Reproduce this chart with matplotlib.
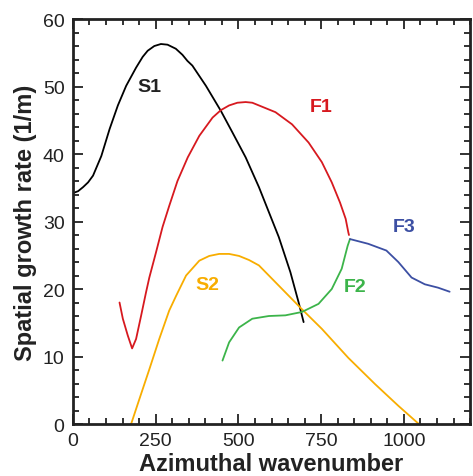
import numpy as np
import matplotlib.pyplot as plt
from matplotlib.ticker import MultipleLocator

plt.rcParams['font.family'] = ['Liberation Sans', 'DejaVu Sans']

s1_x = [0, 16, 31, 46, 61, 86, 111, 136, 161, 191, 211, 226, 246, 266, 286, 311, 331, 346, 361,
        402, 447, 482, 522, 562, 592, 622, 657, 682, 697]
s1_y = [34.2, 34.5, 35.1, 35.8, 36.8, 39.7, 43.7, 47.2, 50.1, 52.8, 54.4, 55.3, 56.0, 56.3, 56.2,
        55.6, 54.7, 53.8, 53.1, 50.1, 46.4, 43.2, 39.5, 35.1, 31.4, 27.7, 22.5, 18.0, 15.1]

f1_x = [141, 151, 166, 179, 191, 206, 221, 231, 251, 271, 291, 316, 347, 382, 422, 447, 472, 497,
        522, 542, 562, 612, 662, 712, 752, 782, 807, 824, 832, 834]
f1_y = [18.0, 15.6, 13.1, 11.2, 12.6, 16.0, 19.5, 21.7, 25.4, 29.2, 32.3, 36.0, 39.5, 42.7,
        45.4, 46.5, 47.2, 47.6, 47.7, 47.6, 47.2, 46.2, 44.4, 41.7, 38.8, 35.8, 32.8, 30.4, 28.4, 28.0]

s2_x = [176, 201, 231, 261, 291, 312, 342, 382, 412, 442, 472, 502, 532, 562, 622, 692, 752, 832,
        913, 983, 1045]
s2_y = [0.0, 3.7, 8.1, 12.6, 16.8, 19.0, 22.0, 24.2, 24.9, 25.2, 25.2, 24.9, 24.3, 23.5, 20.5,
        17.0, 14.1, 9.8, 5.9, 2.7, 0.0]

f2_x = [452, 472, 502, 542, 592, 642, 692, 742, 782, 812, 830, 837]
f2_y = [9.4, 12.1, 14.3, 15.6, 16.0, 16.1, 16.6, 17.8, 20.0, 23.0, 26.4, 27.4]

f3_x = [837, 892, 947, 983, 1023, 1063, 1103, 1138]
f3_y = [27.4, 26.7, 25.7, 24.0, 21.7, 20.7, 20.2, 19.6]

fig = plt.figure(figsize=(4.73, 4.77), dpi=100)
ax = fig.add_axes([0.154, 0.109, 0.84, 0.849])

lw = 1.3
kw = dict(lw=lw, solid_joinstyle='round', solid_capstyle='round')
ax.plot(s1_x, s1_y, color='black', **kw)
ax.plot(f1_x, f1_y, color='#d7191f', **kw)
ax.plot(s2_x, s2_y, color='#f8ad00', **kw)
ax.plot(f2_x, f2_y, color='#3cb44a', **kw)
ax.plot(f3_x, f3_y, color='#3c4fa3', **kw)

lab = dict(fontsize=14, fontweight='bold', ha='center', va='center')
ax.text(230, 50.0, 'S1', color='#222222', **lab)
ax.text(751, 47.1, 'F1', color='#d7191f', **lab)
ax.text(1000, 29.2, 'F3', color='#3c4fa3', **lab)
ax.text(406, 20.7, 'S2', color='#f8ad00', **lab)
ax.text(853, 20.3, 'F2', color='#3cb44a', **lab)

ax.set_xlim(0, 1200)
ax.set_ylim(0, 60)
ax.xaxis.set_major_locator(MultipleLocator(250))
ax.xaxis.set_minor_locator(MultipleLocator(50))
ax.yaxis.set_major_locator(MultipleLocator(10))
ax.yaxis.set_minor_locator(MultipleLocator(2))
ax.set_xticks([0, 250, 500, 750, 1000])

ax.tick_params(which='both', direction='in', top=True, right=True, width=1.3, colors='#222222',
               labelsize=14, pad=6)
ax.tick_params(which='major', length=7)
ax.tick_params(which='minor', length=4)
for sp in ax.spines.values():
    sp.set_linewidth(2)
    sp.set_color('#222222')

ax.set_xlabel('Azimuthal wavenumber', fontsize=17, fontweight='bold', color='#222222', labelpad=2)
ax.set_ylabel('Spatial growth rate (1/m)', fontsize=17, fontweight='bold', color='#222222', labelpad=4)

plt.savefig('out.png', dpi=100)
